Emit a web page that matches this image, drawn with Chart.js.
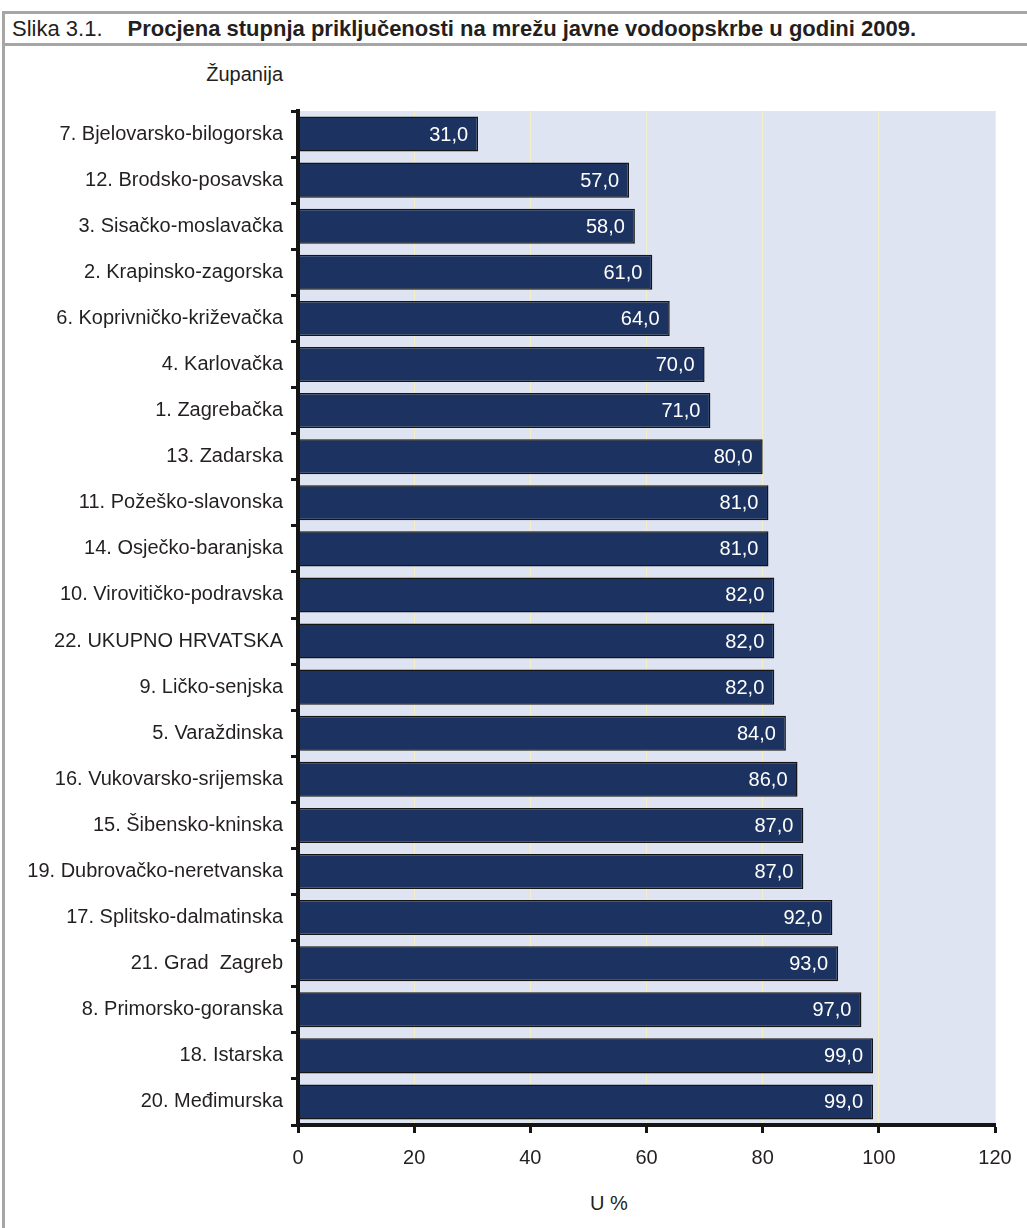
<!DOCTYPE html>
<html>
<head>
<meta charset="utf-8">
<script src="https://cdn.jsdelivr.net/npm/chart.js@4"></script>
<style>
  html, body { margin: 0; padding: 0; background: #fff; }
  body { width: 1027px; height: 1228px; position: relative; overflow: hidden; font-family: "Liberation Sans", Arial, sans-serif; }
  #frame { position: absolute; left: 2px; top: 11px; width: 1040px; height: 1240px; border-left: 3px solid #a6a6a6; border-top: 3px solid #a6a6a6; }
  #title { position: absolute; left: 5px; top: 14px; width: 1030px; height: 29px; border-bottom: 3px solid #a6a6a6; font-size: 22px; line-height: 29px; color: #231f20; white-space: nowrap; }
  #title span { padding-left: 7px; }
  #title b { font-size: 22px; margin-left: 25px; }
  .lbl { font-family: "Liberation Sans", Arial, sans-serif; font-size: 20px; color: #231f20; }
  #zup { position: absolute; right: calc(1027px - 283px); top: 63px; }
  #unit { position: absolute; left: 590px; top: 1192px; }
  #wrap { position: absolute; left: 0; top: 45px; width: 1027px; height: 1183px; }
</style>
</head>
<body>
<div id="frame"></div>
<div id="title"><span>Slika 3.1.</span><b>Procjena stupnja priključenosti na mrežu javne vodoopskrbe u godini 2009.</b></div>
<div id="zup" class="lbl">Županija</div>
<div id="unit" class="lbl">U %</div>
<div id="wrap"><canvas id="chart"></canvas></div>
<script>
  const counties = ['7. Bjelovarsko-bilogorska', '12. Brodsko-posavska', '3. Sisačko-moslavačka', '2. Krapinsko-zagorska',
    '6. Koprivničko-križevačka', '4. Karlovačka', '1. Zagrebačka', '13. Zadarska', '11. Požeško-slavonska',
    '14. Osječko-baranjska', '10. Virovitičko-podravska', '22. UKUPNO HRVATSKA', '9. Ličko-senjska', '5. Varaždinska',
    '16. Vukovarsko-srijemska', '15. Šibensko-kninska', '19. Dubrovačko-neretvanska', '17. Splitsko-dalmatinska',
    '21. Grad  Zagreb', '8. Primorsko-goranska', '18. Istarska', '20. Međimurska'];
  const connected = [31, 57, 58, 61, 64, 70, 71, 80, 81, 81, 82, 82, 82, 84, 86, 87, 87, 92, 93, 97, 99, 99];
  const xTicks = [0, 20, 40, 60, 80, 100, 120];

  const labelFont = '"Liberation Sans", Arial, sans-serif';

  // plot background + value labels inside bar ends
  const plotBg = {
    id: 'plotBg',
    beforeDraw(chart) {
      const a = chart.chartArea, ctx = chart.ctx;
      ctx.save();
      ctx.fillStyle = '#dfe4f2';
      ctx.fillRect(a.left, a.top, a.right - a.left, a.bottom - a.top);
      ctx.restore();
    },
    afterDatasetsDraw(chart) {
      const ctx = chart.ctx;
      ctx.save();
      ctx.font = '20px ' + labelFont;
      ctx.fillStyle = '#ffffff';
      ctx.textAlign = 'right';
      ctx.textBaseline = 'middle';
      chart.getDatasetMeta(0).data.forEach((bar, i) => {
        ctx.fillText(connected[i].toFixed(1).replace('.', ','), bar.x - 10, bar.y + 1);
      });
      ctx.restore();
    }
  };

  new Chart(document.getElementById('chart'), {
    type: 'bar',
    data: {
      labels: counties,
      datasets: [{
        data: connected,
        backgroundColor: '#1c3361',
        borderColor: '#151515',
        borderWidth: 1.5,
        borderSkipped: false,
        barPercentage: 0.76,
        categoryPercentage: 1
      }]
    },
    options: {
      indexAxis: 'y',
      responsive: true,
      maintainAspectRatio: false,
      animation: false,
      layout: { padding: { top: 66, right: 32, left: 0, bottom: 0 } },
      plugins: { legend: { display: false }, tooltip: { enabled: false } },
      scales: {
        x: {
          min: 0, max: 120,
          afterBuildTicks(scale) { scale.ticks = xTicks.map(v => ({ value: v })); },
          afterFit(scale) { scale.height = 103; },
          grid: { color: '#f4efc4', lineWidth: 1, tickColor: '#151515', tickWidth: 3, tickLength: 8 },
          border: { color: '#151515', width: 4 },
          ticks: { color: '#231f20', font: { family: labelFont, size: 20 }, padding: 13 }
        },
        y: {
          afterFit(scale) { scale.width = 298; },
          grid: { drawOnChartArea: false, tickColor: '#151515', tickWidth: 3, tickLength: 7, offset: true },
          border: { color: '#151515', width: 4 },
          ticks: { color: '#231f20', font: { family: labelFont, size: 20 }, padding: 8 }
        }
      }
    },
    plugins: [plotBg]
  });
</script>
</body>
</html>
